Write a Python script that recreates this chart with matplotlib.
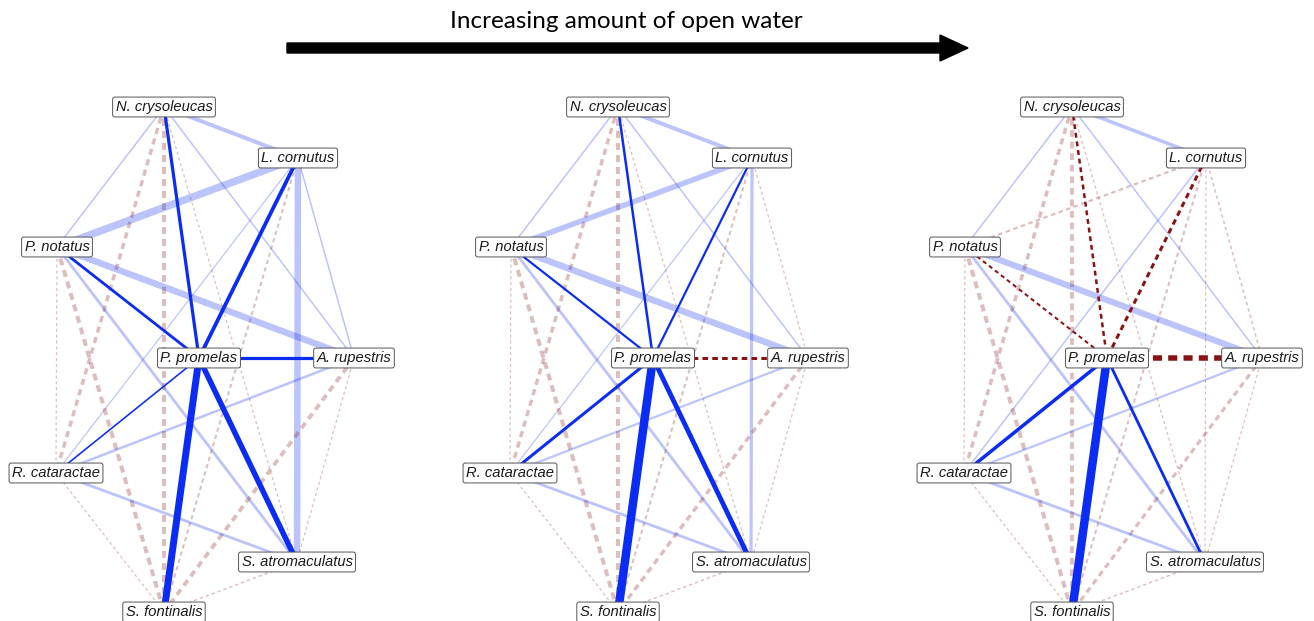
import matplotlib.pyplot as plt

plt.rcParams['lines.scale_dashes'] = False

# Especies (nodos) y su disposicion dentro de cada red
species = ["N. crysoleucas", "L. cornutus", "P. notatus", "P. promelas",
           "A. rupestris", "R. cataractae", "S. atromaculatus", "S. fontinalis"]
node_x = [164, 298, 57, 199, 354, 56, 297, 164]
node_y = [107, 158, 247, 358, 358, 473, 562, 612]

# Pares de especies (indices en species)
pairs = [(0, 1), (0, 2), (0, 3), (0, 4), (0, 5), (0, 6), (0, 7),
         (1, 2), (1, 3), (1, 4), (1, 5), (1, 6), (1, 7),
         (2, 3), (2, 4), (2, 5), (2, 6), (2, 7),
         (3, 4), (3, 5), (3, 6), (3, 7),
         (4, 5), (4, 6), (4, 7),
         (5, 6), (5, 7),
         (6, 7)]

# Correlaciones parciales por nivel de agua abierta (bajo, medio, alto)
w_low = [0.40, 0.15, 0.32, 0.15, -0.35, -0.12, -0.40,
         0.75, 0.38, 0.15, 0.12, 0.65, -0.20,
         0.28, 0.65, -0.12, 0.28, -0.40,
         0.32, 0.16, 0.55, 0.70,
         0.25, -0.12, -0.38,
         0.28, -0.12,
         -0.14]
w_mid = [0.40, 0.15, 0.25, 0.15, -0.35, -0.12, -0.40,
         0.55, 0.22, -0.12, 0.12, 0.32, -0.20,
         0.22, 0.65, -0.12, 0.28, -0.40,
         -0.30, 0.30, 0.48, 0.85,
         0.22, -0.12, -0.35,
         0.28, -0.12,
         -0.14]
w_high = [0.35, 0.15, -0.25, 0.15, -0.35, -0.12, -0.38,
          -0.22, -0.30, -0.15, 0.15, -0.12, -0.20,
          -0.20, 0.62, -0.12, 0.28, -0.40,
          -0.55, 0.35, 0.28, 0.85,
          0.22, -0.12, -0.32,
          0.28, -0.12,
          -0.14]

# Aristas significativas (1) frente a no significativas (0)
sig_low = [0, 0, 1, 0, 0, 0, 0,
           0, 1, 0, 0, 0, 0,
           1, 0, 0, 0, 0,
           1, 1, 1, 1,
           0, 0, 0,
           0, 0,
           0]
sig_mid = [0, 0, 1, 0, 0, 0, 0,
           0, 1, 0, 0, 0, 0,
           1, 0, 0, 0, 0,
           1, 1, 1, 1,
           0, 0, 0,
           0, 0,
           0]
sig_high = [0, 0, 1, 0, 0, 0, 0,
            0, 1, 0, 0, 0, 0,
            1, 0, 0, 0, 0,
            1, 1, 1, 1,
            0, 0, 0,
            0, 0,
            0]

networks = [(w_low, sig_low), (w_mid, sig_mid), (w_high, sig_high)]

pos_col = '#0b2cf5'
neg_col = '#8b1212'
px = 0.72  # puntos por pixel a dpi=100

fig = plt.figure(figsize=(13.14, 6.21), dpi=100)

# Titulo y flecha
fig.text(626 / 1314, 1 - 22 / 621, "Increasing amount of open water",
         ha='center', va='center', fontsize=17.5, family='Lato')
fig.patches.append(plt.matplotlib.patches.FancyArrow(
    287 / 1314, 1 - 48 / 621, (940 - 287) / 1314, 0,
    width=10 / 621, head_width=26 / 621, head_length=28 / 1314,
    length_includes_head=False, color='black', transform=fig.transFigure,
    figure=fig))

for k, (weights, sig) in enumerate(networks):
    left = k * 454
    ax = fig.add_axes([left / 1314, 0, 420 / 1314, 560 / 621])
    ax.set_xlim(0, 420)
    ax.set_ylim(621, 61)
    ax.axis('off')

    for (i, j), w, s in zip(pairs, weights, sig):
        lw = abs(w) * 10  # en pixeles
        col = pos_col if w > 0 else neg_col
        alpha = 1.0 if s else 0.28
        dash = (0, ((1.4 + 1.4 * lw) * px, (1.8 + 0.8 * lw) * px))
        style = '-' if w > 0 else dash
        ax.plot([node_x[i], node_x[j]], [node_y[i], node_y[j]],
                color=col, alpha=alpha, lw=lw * px, linestyle=style,
                solid_capstyle='butt', dash_capstyle='butt',
                zorder=2 if s else 1)

    for name, x, y in zip(species, node_x, node_y):
        ax.text(x, y, name, ha='center', va='center', fontsize=10.6,
                style='italic', family='Liberation Sans', color='#1a1a1a',
                zorder=5,
                bbox=dict(boxstyle='round,pad=0.2,rounding_size=0.15',
                          fc='white', ec='#555555', lw=0.7))

fig.savefig('out.png', dpi=100)
